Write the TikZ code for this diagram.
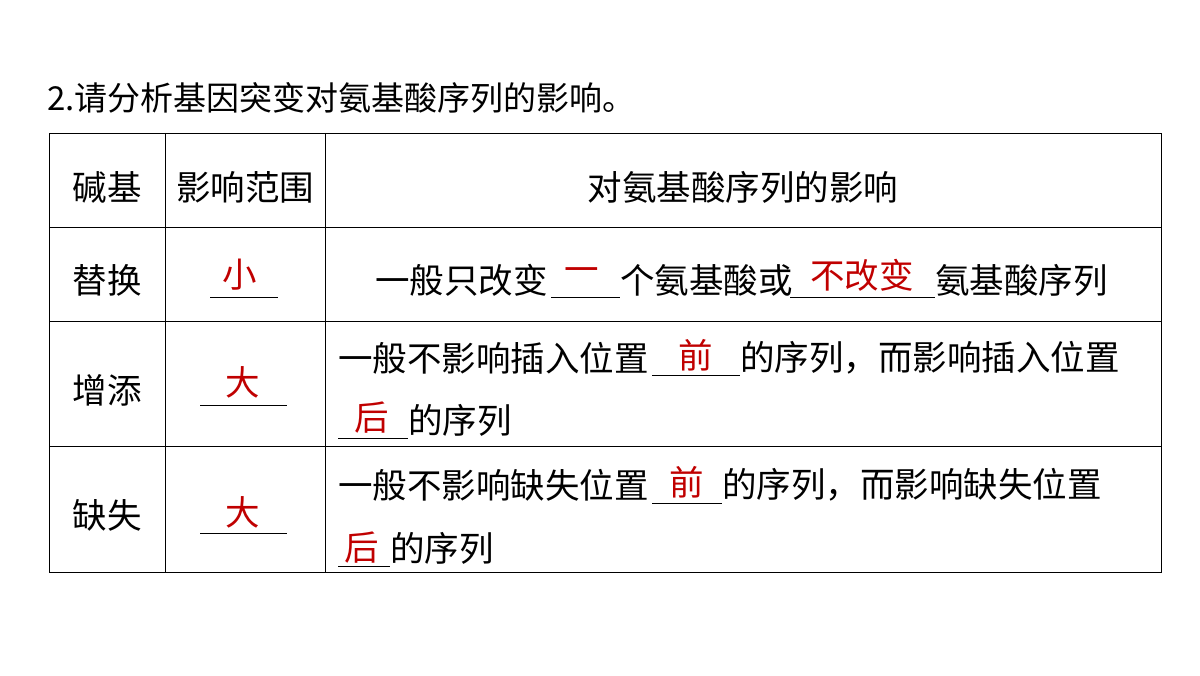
\documentclass[tikz,border=0pt]{standalone}
\usepackage{fontspec}
\setmainfont{Noto Sans CJK SC}
\usepackage{tikz}
\definecolor{ansred}{RGB}{192,0,0}
\begin{document}
\begin{tikzpicture}[x=1pt,y=-1pt]
\tikzstyle{every node}+=[inner sep=0pt,font=\fontsize{34.5}{40}\selectfont]
\tikzstyle{ans}=[text=ansred]
\useasboundingbox (0,0) rectangle (1200,676);
\node [anchor=west,font=\fontsize{33}{38}\selectfont] (title) at (47,98) {2.请分析基因突变对氨基酸序列的影响。};
% table
\draw [black] (49,133) rectangle (1161,572);
\draw [black] (49,227) -- (1161,227);
\draw [black] (49,321) -- (1161,321);
\draw [black] (49,446) -- (1161,446);
\draw [black] (165,133) -- (165,572);
\draw [black] (325,133) -- (325,572);
% header
\node (h1) at (107,187) {碱基};
\node (h2) at (245,187) {影响范围};
\node (h3) at (743,187) {对氨基酸序列的影响};
% substitution
\node (r1) at (107,280) {替换};
\node [ans] (r1a) at (240,275) {小};
\draw (210,297) -- (278,297);
\node [anchor=west] (r1t1) at (375,280) {一般只改变};
\draw (551,297) -- (620,297);
\node [ans] (r1b) at (582,275) {一};
\node [anchor=west] (r1t2) at (620,280) {个氨基酸或};
\draw (790,297) -- (935,297);
\node [ans] (r1c) at (862,275) {不改变};
\node [anchor=west] (r1t3) at (935,280) {氨基酸序列};
% insertion
\node (r2) at (107,390) {增添};
\node [ans] (r2a) at (243,382) {大};
\draw (200,405) -- (287,405);
\node [anchor=west] (r2t1) at (338,358) {一般不影响插入位置};
\draw (652,375) -- (740,375);
\node [ans] (r2b) at (696,355) {前};
\node [anchor=west] (r2t2) at (740,358) {的序列，而影响插入位置};
\draw (338,438) -- (408,438);
\node [ans] (r2c) at (372,418) {后};
\node [anchor=west] (r2t3) at (408,420) {的序列};
% deletion
\node (r3) at (107,515) {缺失};
\node [ans] (r3a) at (243,512) {大};
\draw (200,533) -- (287,533);
\node [anchor=west] (r3t1) at (338,485) {一般不影响缺失位置};
\draw (652,503) -- (722,503);
\node [ans] (r3b) at (687,482) {前};
\node [anchor=west] (r3t2) at (722,485) {的序列，而影响缺失位置};
\draw (338,566) -- (390,566);
\node [ans] (r3c) at (362,548) {后};
\node [anchor=west] (r3t3) at (390,548) {的序列};
\end{tikzpicture}
\end{document}
